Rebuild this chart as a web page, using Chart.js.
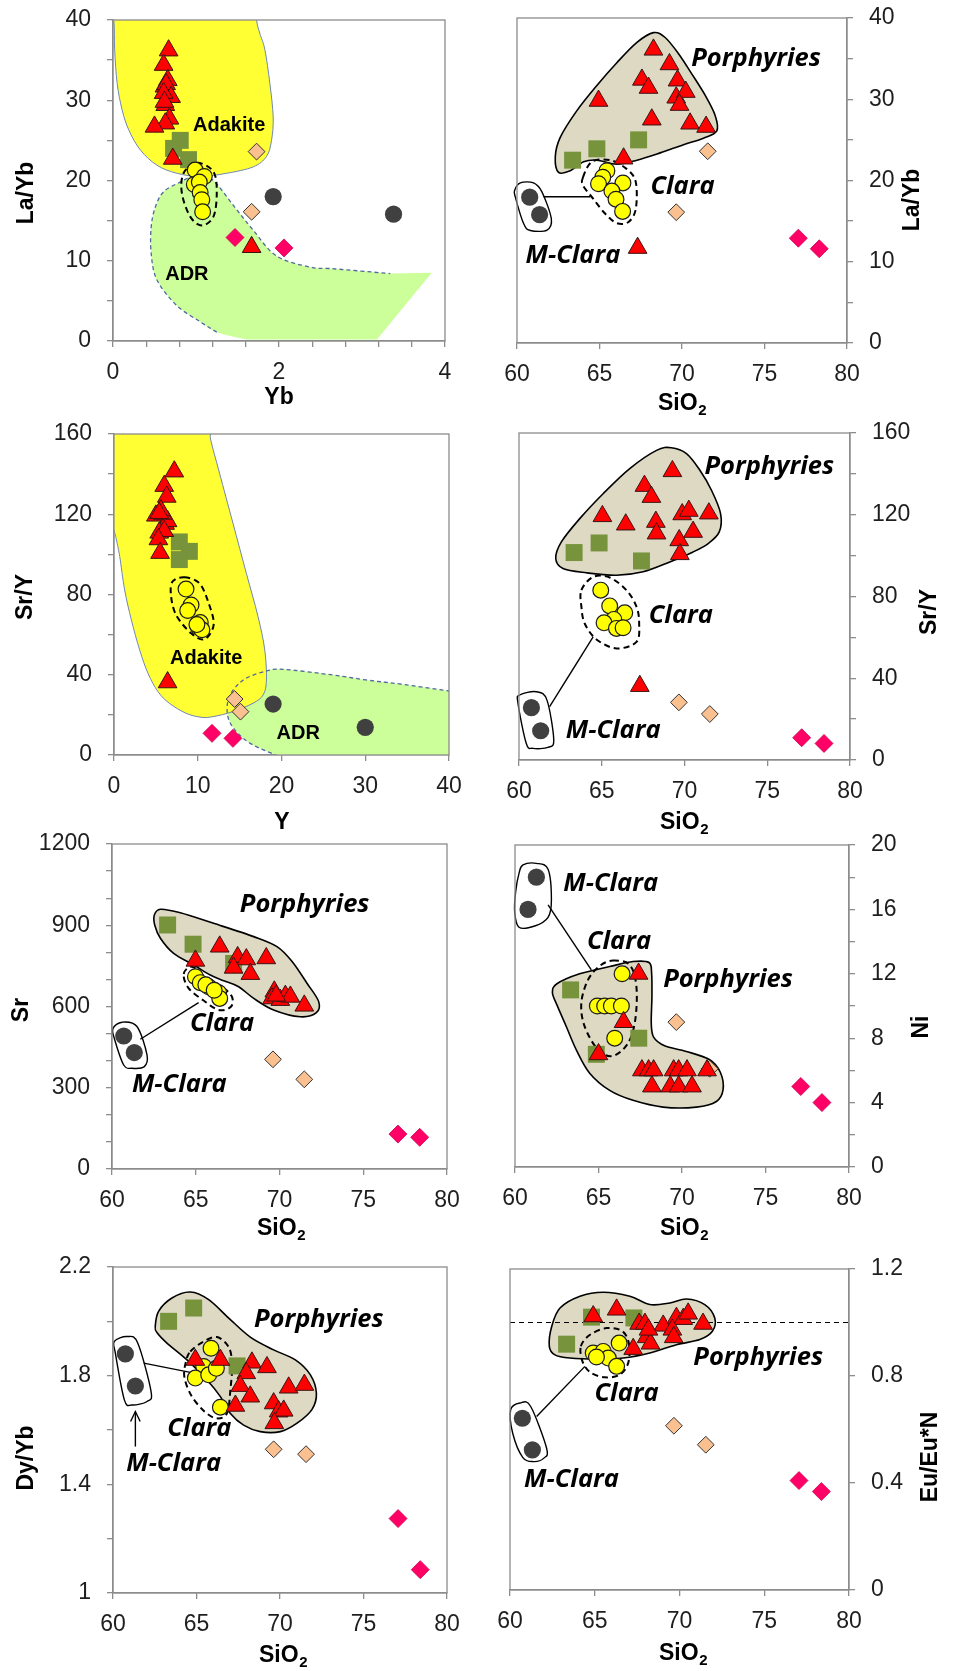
<!DOCTYPE html>
<html>
<head>
<meta charset="utf-8">
<title>Adakite discrimination and SiO2 variation diagrams</title>
<script src="https://cdn.jsdelivr.net/npm/chart.js@4.4.1/dist/chart.umd.min.js"></script>
<style>
  html, body { margin: 0; padding: 0; background: #fff; }
  #sheet { position: relative; width: 957px; height: 1671px; overflow: hidden; background: #fff; }
  #sheet canvas { position: absolute; }
</style>
</head>
<body>
<div id="sheet"></div>
<script>
// ---------- Panel A: La/Yb vs Yb ----------
const A_triangles = [[0.67,36.2],[0.61,34.4],[0.66,32.5],[0.62,31.7],[0.64,32.0],[0.70,30.4],[0.61,30.9],[0.63,29.4],[0.62,29.8],[0.68,27.7],[0.63,27.1],[0.50,26.7],[0.72,22.7],[1.67,11.7]];
const A_squares = [[0.81,25.0],[0.73,24.0],[0.91,22.6]];
const A_clara = [[0.99,21.3],[1.10,20.5],[0.98,19.5],[1.04,19.8],[1.05,18.5],[1.07,17.6],[1.08,16.1]];
const A_mClara = [[1.93,18.0],[3.38,15.8]];
const A_tan = [[1.73,23.6],[1.67,16.1]];
const A_pink = [[1.47,12.9],[2.06,11.6]];
const A_adakiteField = [[-0.05,43],[0.01,40],[0.02,36.3],[0.05,32.1],[0.11,28.8],[0.19,26.3],[0.33,23.8],[0.53,21.9],[0.77,20.9],[1.05,20.5],[1.37,20.9],[1.69,21.7],[1.85,23.0],[1.91,25.0],[1.93,27.9],[1.89,32.1],[1.83,36.3],[1.77,38.3],[1.73,40],[1.72,43]];
const A_adrEdge = [[1.61,0.2],[1.25,1.1],[1.05,2.4],[0.77,4.4],[0.53,7.6],[0.46,10.9],[0.46,14.2],[0.51,16.7],[0.61,18.6],[0.81,19.8],[1.03,20.8],[1.21,20.0],[1.45,16.9],[1.69,13.8],[1.97,10.6],[2.38,9.2],[2.66,9.0],[3.34,8.4]];
const A_adrCorners = [[3.84,8.5],[3.18,0.2]];
const A_claraOutline = [[1.01,22.2],[1.21,21.1],[1.25,18.4],[1.21,15.5],[1.07,14.4],[0.93,15.5],[0.83,18.4],[0.85,20.9]];
const A_xLabels = [0, 2, 4];
const A_yLabels = [0, 10, 20, 30, 40];

// ---------- Panel B: La/Yb vs SiO2 ----------
const B_triangles = [[68.27,36.1],[69.24,34.3],[67.57,32.4],[67.97,31.4],[69.73,32.3],[69.65,30.2],[70.23,30.9],[69.85,29.3],[64.94,29.8],[68.17,27.5],[70.49,27.0],[71.46,26.6],[66.46,22.7],[67.31,11.7]];
const B_squares = [[63.37,22.5],[64.84,23.9],[67.37,25.0]];
const B_clara = [[65.45,21.2],[65.2,20.4],[64.94,19.6],[66.42,19.7],[65.75,18.7],[66.0,17.7],[66.4,16.2]];
const B_mClara = [[60.77,17.95],[61.37,15.8]];
const B_tan = [[71.56,23.6],[69.65,16.1]];
const B_pink = [[77.05,12.9],[78.32,11.6]];
const B_porphField = [[62.52,21.0],[62.32,22.9],[62.62,25.3],[63.63,28.6],[64.84,31.7],[66.05,34.5],[67.27,37.0],[68.27,38.2],[68.98,37.6],[69.79,35.6],[70.6,33.1],[71.4,30.5],[72.01,28.0],[72.11,26.1],[71.3,25.2],[70.09,24.4],[68.68,23.4],[67.27,22.5],[66.05,22.0],[64.84,22.5],[64.04,22.3],[63.23,21.2]];
const B_claraOutline = [[64.0,20.4],[64.54,22.3],[65.65,22.5],[66.66,21.4],[67.2,19.8],[67.2,16.5],[66.76,14.9],[66.05,14.75],[65.35,15.9],[64.64,17.7],[64.0,19.4]];
const B_mClaraOutline = [[59.86,18.8],[60.2,19.7],[61.0,19.7],[61.51,18.6],[62.08,15.3],[61.82,13.9],[60.81,13.85],[60.4,14.7],[59.9,17.95]];
const B_link = [[61.61,18.0],[64.44,18.0]];
const B_yLabels = [0, 10, 20, 30, 40];

// ---------- Panel C: Sr/Y vs Y ----------
const C_triangles = [[7.2,141.3],[6.0,134.1],[6.3,128.7],[5.0,119.3],[6.1,115.2],[6.4,116.5],[5.4,110.8],[5.8,120.2],[5.6,121.9],[5.4,120.6],[6.0,111.6],[5.3,107.5],[5.5,100.7],[6.4,36.2]];
const C_squares = [[7.8,106.2],[9.0,101.5],[7.8,97.4]];
const C_clara = [[8.6,82.7],[9.2,74.8],[8.8,72.0],[10.3,66.0],[10.1,63.7],[10.5,62.4],[9.9,65.0]];
const C_mClara = [[19.0,25.4],[30.0,13.8]];
const C_tan = [[14.4,27.9],[15.1,21.6]];
const C_pink = [[11.7,10.8],[14.2,8.3]];
const C_adakiteField = [[-0.5,166],[11.3,166],[11.5,158],[12.6,140.5],[14.2,115.6],[15.8,90.6],[17.2,69.0],[18.0,52.4],[18.2,37.4],[17.8,29.9],[16.6,25.8],[14.2,21.6],[11.8,19.1],[10.4,18.8],[8.6,20.8],[6.6,25.8],[5.25,31.6],[4.06,40.7],[3.06,52.4],[2.07,67.4],[1.27,82.3],[0.68,99.0],[0.2,108.9],[-0.3,118],[-0.5,140]];
const C_adrEdge = [[19.6,-0.5],[16.6,5.0],[14.8,10.8],[13.8,16.6],[13.5,22.5],[13.7,28.3],[14.4,33.3],[15.8,38.3],[18.2,41.9],[20.2,42.7],[26.1,39.9],[30.1,37.4],[34.1,35.4],[40.5,31.6]];
const C_adrCorners = [[40.5,-1],[19.6,-1]];
const C_claraOutline = [[8.4,88.6],[10.2,85.6],[11.3,75.7],[11.9,64.9],[10.8,57.7],[9.2,60.7],[7.4,69.9],[6.8,79.8],[7.0,86.5]];
const C_xLabels = [0, 10, 20, 30, 40];
const C_yLabels = [0, 40, 80, 120, 160];

// ---------- Panel D: Sr/Y vs SiO2 ----------
const D_triangles = [[69.27,141.3],[67.58,134.1],[68.0,128.7],[65.04,119.3],[66.45,115.2],[68.27,116.5],[68.31,110.8],[69.86,120.2],[70.26,121.9],[71.47,120.6],[70.52,111.6],[69.68,107.5],[69.72,100.7],[67.30,36.2]];
const D_squares = [[63.33,101.5],[64.84,106.2],[67.40,97.4]];
const D_clara = [[64.94,83.1],[65.48,75.4],[66.39,72.0],[65.73,68.8],[65.14,67.1],[65.89,64.4],[66.29,64.7]];
const D_mClara = [[60.75,25.6],[61.31,14.3]];
const D_tan = [[69.66,28.2],[71.53,22.5]];
const D_pink = [[77.08,10.9],[78.43,8.1]];
const D_porphField = [[62.22,98.6],[62.56,106.7],[63.67,118.1],[65.08,130.3],[66.69,142.6],[68.31,151.5],[69.21,152.8],[70.12,149.9],[70.93,141.8],[71.63,132.0],[72.18,120.6],[72.10,111.6],[71.43,105.9],[70.52,101.8],[69.11,96.9],[67.50,92.1],[65.89,90.4],[64.07,91.6],[62.66,93.7]];
const D_claraOutline = [[63.77,83.1],[64.48,89.6],[65.48,89.3],[66.49,83.1],[67.10,75.0],[67.26,66.8],[67.10,57.8],[65.89,54.6],[64.68,59.0],[63.97,66.8],[63.77,75.0]];
const D_mClaraOutline = [[60.04,31.8],[61.05,33.4],[61.69,29.3],[62.10,9.8],[61.75,6.2],[60.85,5.7],[60.44,8.1],[59.94,27.7]];
const D_link = [[61.85,26.1],[64.48,60.3]];

// ---------- Panel E: Sr vs SiO2 ----------
const E_triangles = [[66.43,821],[64.98,769],[67.50,782],[68.02,774],[67.26,743],[68.26,720],[69.21,778],[69.69,655],[69.55,630],[70.05,624],[70.35,639],[70.65,636],[71.48,603],[69.8,640]];
const E_squares = [[63.32,901],[64.84,830],[67.26,759]];
const E_clara = [[64.98,710],[65.27,688],[65.77,673],[66.37,651],[66.43,630],[65.6,680],[66.1,660]];
const E_mClara = [[60.70,491],[61.33,430]];
const E_tan = [[69.61,405],[71.48,331]];
const E_pink = [[77.07,129],[78.37,117]];
const E_porphField = [[62.53,938],[62.89,959],[64.08,946],[66.07,907],[68.46,858],[69.85,821],[70.75,766],[71.64,686],[72.34,618],[72.2,577],[71.24,562],[69.65,587],[68.46,630],[67.56,673],[66.67,695],[65.87,716],[64.88,753],[63.68,796],[62.89,852],[62.55,901]];
const E_claraOutline = [[64.28,720],[64.78,747],[65.57,710],[66.57,673],[67.16,636],[67.1,599],[66.37,587],[65.47,622],[64.58,667]];
const E_mClaraOutline = [[60.06,519],[60.6,542],[61.49,526],[62.09,421],[61.93,378],[61.19,372],[60.7,384],[60.14,482]];
const E_link = [[61.69,479],[65.17,614]];
const E_yLabels = [0, 300, 600, 900, 1200];

// ---------- Panel F: Ni vs SiO2 ----------
const F_triangles = [[67.4,12],[66.5,9],[65.0,7],[67.6,6],[68.0,6],[68.3,6],[69.5,6],[69.8,6],[70.3,6],[71.5,6],[68.2,5],[69.3,5],[69.8,5],[70.6,5]];
const F_squares = [[63.33,11],[67.41,8],[64.87,7]];
const F_clara = [[66.41,12],[64.93,10],[65.37,10],[65.77,10],[66.37,10],[65.97,8]];
const F_mClara = [[61.28,18],[60.78,16]];
const F_tan = [[69.66,9],[71.66,6.1]];
const F_pink = [[77.11,5],[78.38,4]];
const F_porphField = [[62.24,10.84],[62.51,11.38],[63.87,12.0],[65.67,12.45],[67.07,12.76],[68.02,12.7],[68.18,12.04],[68.2,10.59],[68.16,8.93],[68.3,8.07],[68.96,7.53],[70.26,7.18],[71.66,6.66],[72.3,5.87],[72.46,4.8],[72.06,4.07],[70.86,3.72],[68.86,3.72],[67.07,4.14],[65.67,4.76],[64.47,5.83],[63.67,7.28],[63.07,8.73],[62.51,10.07]];
const F_claraOutline = [[65.87,12.82],[66.87,12.55],[67.27,11.2],[67.2,9.14],[66.77,7.69],[65.87,6.9],[64.97,7.28],[64.17,8.73],[63.97,10.18],[64.37,11.62],[65.07,12.49]];
const F_mClaraOutline = [[60.48,18.76],[61.28,18.86],[61.98,18.49],[62.18,16.59],[61.98,15.51],[61.18,14.97],[60.24,14.89],[59.98,15.86],[60.04,17.1],[60.24,18.24]];
const F_link = [[61.98,16.28],[64.57,12.24]];
const F_yLabels = [0, 4, 8, 12, 16, 20];

// ---------- Panel G: Dy/Yb vs SiO2 ----------
const G_triangles = [[64.93,1.858],[66.43,1.858],[68.32,1.848],[69.22,1.831],[67.98,1.809],[67.62,1.762],[68.22,1.723],[67.33,1.689],[69.62,1.698],[70.52,1.756],[71.46,1.766],[69.92,1.668],[70.22,1.671],[69.66,1.625]];
const G_squares = [[63.33,2.0],[64.83,2.049],[67.43,1.836]];
const G_clara = [[65.87,1.901],[65.43,1.834],[64.93,1.791],[65.73,1.803],[66.19,1.827],[66.43,1.684]];
const G_mClara = [[60.74,1.880],[61.34,1.762]];
const G_tan = [[69.62,1.529],[71.56,1.511]];
const G_pink = [[77.07,1.274],[78.40,1.086]];
const G_porphField = [[62.53,1.981],[62.73,2.037],[63.53,2.086],[64.63,2.108],[65.73,2.080],[66.93,2.012],[68.22,1.942],[69.62,1.895],[70.92,1.858],[71.82,1.803],[72.18,1.735],[71.92,1.676],[71.02,1.625],[70.02,1.594],[68.82,1.594],[67.82,1.618],[67.03,1.661],[66.43,1.723],[65.63,1.784],[64.43,1.858],[63.23,1.920],[62.63,1.959]];
const G_claraOutline = [[64.63,1.889],[65.43,1.926],[66.23,1.942],[66.93,1.905],[67.13,1.840],[67.03,1.748],[66.83,1.662],[66.19,1.643],[65.43,1.671],[64.67,1.729],[64.27,1.797],[64.37,1.852]];
const G_mClaraOutline = [[60.08,1.926],[60.84,1.944],[61.48,1.920],[62.28,1.741],[62.04,1.705],[61.14,1.692],[60.68,1.711],[60.14,1.883]];
const G_link = [[61.84,1.846],[64.63,1.812]];
const G_arrow = [[61.34,1.539],[61.34,1.668]];
const G_yLabels = [1, 1.4, 1.8, 2.2];

// ---------- Panel H: Eu/Eu*N vs SiO2 ----------
const H_triangles = [[64.91,1.023],[66.29,1.048],[67.62,0.995],[67.96,0.995],[69.04,0.988],[69.82,1.017],[70.22,1.013],[70.51,1.033],[71.39,0.995],[69.58,0.973],[69.66,0.945],[68.06,0.945],[68.29,0.921],[67.27,0.901],[68.17,0.973]];
const H_squares = [[64.81,1.02],[67.31,1.017],[63.34,0.919]];
const H_clara = [[66.44,0.923],[64.91,0.886],[65.5,0.892],[65.8,0.867],[66.29,0.836],[65.1,0.871]];
const H_mClara = [[60.73,0.642],[61.32,0.524]];
const H_tan = [[69.67,0.614],[71.55,0.543]];
const H_pink = [[77.05,0.409],[78.37,0.368]];
const H_porphField = [[62.32,0.911],[62.46,0.985],[62.95,1.054],[64.13,1.098],[65.50,1.113],[67.07,1.098],[68.25,1.067],[69.43,1.073],[70.41,1.088],[71.49,1.067],[72.08,1.017],[71.94,0.967],[71.20,0.936],[69.82,0.917],[68.25,0.886],[66.68,0.867],[65.11,0.863],[63.54,0.867],[62.65,0.879]];
const H_claraOutline = [[64.18,0.911],[64.72,0.954],[65.70,0.979],[66.64,0.967],[67.03,0.917],[66.97,0.848],[66.48,0.805],[65.60,0.795],[64.75,0.813],[64.28,0.854]];
const H_mClaraOutline = [[60.04,0.674],[60.59,0.699],[61.22,0.686],[62.16,0.530],[62.0,0.493],[61.38,0.480],[60.75,0.496],[60.16,0.586]];
const H_link = [[61.57,0.649],[64.42,0.836]];
const H_euLine = 1;
const H_yLabels = [0, 0.4, 0.8, 1.2];

const SiO2_labels = [60, 65, 70, 75, 80];

// ---------- styles ----------
const TICK_FONT = '"Liberation Sans", Arial, sans-serif';
const FONTS = {
  ann: 'italic bold 25.5px "Open Sans", "Liberation Sans", sans-serif',
  field: 'bold 20px "Liberation Sans", Arial, sans-serif',
  title: 'bold 23px "Liberation Sans", Arial, sans-serif',
  sub: 'bold 15px "Liberation Sans", Arial, sans-serif'
};
const AXIS_GREY = '#8c8c8c';
const PORPH_FILL = '#ddd9c3';
const ADAKITE_FILL = '#ffff33';
const ADR_FILL = '#ccff99';
const FIELD_LINE = '#6f86b6';

// marker styles, listed top-most first (dataset 0 is painted last)
const MARKERS = {
  tri:   { pointStyle: 'triangle', pointRadius: 10.8, pointBackgroundColor: '#ff0000', pointBorderColor: '#3a1414', pointBorderWidth: 1 },
  clara: { pointStyle: 'circle',   pointRadius: 7.9, pointBackgroundColor: '#ffff00', pointBorderColor: '#1a1a1a', pointBorderWidth: 1.2 },
  mcl:   { pointStyle: 'circle',   pointRadius: 8.6, pointBackgroundColor: '#404040', pointBorderColor: '#404040', pointBorderWidth: 0 },
  pink:  { pointStyle: 'rectRot',  pointRadius: 9,   pointBackgroundColor: '#ff0066', pointBorderColor: '#d1004f', pointBorderWidth: 0.8 },
  tan:   { pointStyle: 'rectRot',  pointRadius: 8.4, pointBackgroundColor: '#fac090', pointBorderColor: '#333333', pointBorderWidth: 1 },
  sq:    { pointStyle: 'rect',     pointRadius: 12,  pointBackgroundColor: '#77933c', pointBorderColor: '#77933c', pointBorderWidth: 0 }
};

function porphyries(field) { return { pts: field, fill: PORPH_FILL, stroke: '#000', width: 1.6 }; }
function claraRing(outline) { return { pts: outline, stroke: '#000', width: 2, dash: [6, 4] }; }
function mClaraRing(outline) { return { pts: outline, stroke: '#000', width: 1.4 }; }
function link(seg) { return { pts: seg, smooth: false, closed: false, stroke: '#000', width: 1.4 }; }

const SIO2_AXIS = { min: 60, max: 80, step: 5, labels: SiO2_labels };

const panels = [
  { id: 'A', side: 'left', rect: [113, 20, 445, 341],
    x: { min: 0, max: 4, step: 0.4, labels: A_xLabels }, y: { min: 0, max: 40, step: 5, labels: A_yLabels },
    xTitle: ['Yb'], xTitleAt: [279, 398], yTitle: 'La/Yb', yTitleAt: [27, 193],
    series: { tri: A_triangles, clara: A_clara, mcl: A_mClara, pink: A_pink, tan: A_tan, sq: A_squares },
    shapes: [
      { pts: A_adrEdge, tail: A_adrCorners, fill: ADR_FILL, clip: true },
      { pts: A_adakiteField, fill: ADAKITE_FILL, stroke: FIELD_LINE, width: 1, clip: true },
      { pts: A_adrEdge.slice(1), closed: false, stroke: '#4f68a0', width: 1.3, dash: [4, 3], clip: true },
      claraRing(A_claraOutline)
    ],
    texts: [ { t: 'Adakite', at: [1.40, 26.9], f: 'field' }, { t: 'ADR', at: [0.89, 8.3], f: 'field' } ] },

  { id: 'B', side: 'right', rect: [517, 18, 847, 343],
    x: SIO2_AXIS, y: { min: 0, max: 40, step: 5, labels: B_yLabels },
    xTitle: ['SiO', '2'], xTitleAt: [682, 404], yTitle: 'La/Yb', yTitleAt: [913, 200],
    series: { tri: B_triangles, clara: B_clara, mcl: B_mClara, pink: B_pink, tan: B_tan, sq: B_squares },
    shapes: [ porphyries(B_porphField), claraRing(B_claraOutline), mClaraRing(B_mClaraOutline), link(B_link) ],
    texts: [ { t: 'Porphyries', at: [74.49, 35.0], f: 'ann' }, { t: 'Clara', at: [70.03, 19.2], f: 'ann' }, { t: 'M-Clara', at: [63.39, 10.8], f: 'ann' } ] },

  { id: 'C', side: 'left', rect: [114, 434, 449, 755],
    x: { min: 0, max: 40, step: 10, labels: C_xLabels }, y: { min: 0, max: 160, step: 20, labels: C_yLabels },
    xTitle: ['Y'], xTitleAt: [282, 823], yTitle: 'Sr/Y', yTitleAt: [26, 597],
    series: { tri: C_triangles, clara: C_clara, mcl: C_mClara, pink: C_pink, tan: C_tan, sq: C_squares },
    shapes: [
      { pts: C_adrEdge, tail: C_adrCorners, fill: ADR_FILL, clip: true },
      { pts: C_adakiteField, fill: ADAKITE_FILL, stroke: FIELD_LINE, width: 1, clip: true },
      { pts: C_adrEdge, closed: false, stroke: '#4f68a0', width: 1.3, dash: [4, 3], clip: true },
      claraRing(C_claraOutline)
    ],
    texts: [ { t: 'Adakite', at: [11.0, 48.2], f: 'field' }, { t: 'ADR', at: [22.0, 10.5], f: 'field' } ] },

  { id: 'D', side: 'right', rect: [519, 433, 850, 760],
    x: SIO2_AXIS, y: { min: 0, max: 160, step: 20, labels: C_yLabels },
    xTitle: ['SiO', '2'], xTitleAt: [684, 823], yTitle: 'Sr/Y', yTitleAt: [930, 612],
    series: { tri: D_triangles, clara: D_clara, mcl: D_mClara, pink: D_pink, tan: D_tan, sq: D_squares },
    shapes: [ porphyries(D_porphField), claraRing(D_claraOutline), mClaraRing(D_mClaraOutline), link(D_link) ],
    texts: [ { t: 'Porphyries', at: [75.12, 143.7], f: 'ann' }, { t: 'Clara', at: [69.78, 70.4], f: 'ann' }, { t: 'M-Clara', at: [65.69, 14.3], f: 'ann' } ] },

  { id: 'E', side: 'left', rect: [112, 844, 447, 1169],
    x: SIO2_AXIS, y: { min: 0, max: 1200, step: 100, labels: E_yLabels },
    xTitle: ['SiO', '2'], xTitleAt: [281, 1229], yTitle: 'Sr', yTitleAt: [22, 1010],
    series: { tri: E_triangles, clara: E_clara, mcl: E_mClara, pink: E_pink, tan: E_tan, sq: E_squares },
    shapes: [ porphyries(E_porphField), claraRing(E_claraOutline), mClaraRing(E_mClaraOutline), link(E_link) ],
    texts: [ { t: 'Porphyries', at: [71.5, 975], f: 'ann' }, { t: 'Clara', at: [66.57, 538], f: 'ann' }, { t: 'M-Clara', at: [64.02, 310], f: 'ann' } ] },

  { id: 'F', side: 'right', rect: [515, 845, 849, 1167],
    x: SIO2_AXIS, y: { min: 0, max: 20, step: 2, labels: F_yLabels },
    xTitle: ['SiO', '2'], xTitleAt: [684, 1229], yTitle: 'Ni', yTitleAt: [922, 1027],
    series: { tri: F_triangles, clara: F_clara, mcl: F_mClara, pink: F_pink, tan: F_tan, sq: F_squares },
    shapes: [ porphyries(F_porphField), claraRing(F_claraOutline), mClaraRing(F_mClaraOutline), link(F_link) ],
    texts: [ { t: 'M-Clara', at: [65.73, 17.62], f: 'ann' }, { t: 'Clara', at: [66.23, 14.0], f: 'ann' }, { t: 'Porphyries', at: [72.75, 11.62], f: 'ann' } ] },

  { id: 'G', side: 'left', rect: [113, 1267, 447, 1593],
    x: SIO2_AXIS, y: { min: 1, max: 2.2, step: 0.2, labels: G_yLabels },
    xTitle: ['SiO', '2'], xTitleAt: [283, 1656], yTitle: 'Dy/Yb', yTitleAt: [27, 1458],
    series: { tri: G_triangles, clara: G_clara, mcl: G_mClara, pink: G_pink, tan: G_tan, sq: G_squares },
    shapes: [ porphyries(G_porphField), claraRing(G_claraOutline), mClaraRing(G_mClaraOutline), link(G_link),
              { pts: G_arrow, smooth: false, closed: false, stroke: '#000', width: 1.4, arrow: true } ],
    texts: [ { t: 'Porphyries', at: [72.32, 2.006], f: 'ann' }, { t: 'Clara', at: [65.17, 1.606], f: 'ann' }, { t: 'M-Clara', at: [63.63, 1.477], f: 'ann' } ] },

  { id: 'H', side: 'right', rect: [510, 1269, 849, 1590],
    x: SIO2_AXIS, y: { min: 0, max: 1.2, step: 0.4, labels: H_yLabels },
    xTitle: ['SiO', '2'], xTitleAt: [683, 1654], yTitle: 'Eu/Eu*N', yTitleAt: [931, 1457],
    series: { tri: H_triangles, clara: H_clara, mcl: H_mClara, pink: H_pink, tan: H_tan, sq: H_squares },
    shapes: [ porphyries(H_porphField), { hline: H_euLine, stroke: '#000', width: 1.2, dash: [5, 4] },
              claraRing(H_claraOutline), mClaraRing(H_mClaraOutline), link(H_link) ],
    texts: [ { t: 'Porphyries', at: [74.64, 0.867], f: 'ann' }, { t: 'Clara', at: [66.88, 0.733], f: 'ann' }, { t: 'M-Clara', at: [63.63, 0.412], f: 'ann' } ] }
];

// ---------- drawing helpers ----------
function tracePath(ctx, pts, closed, smooth) {
  const n = pts.length;
  ctx.moveTo(pts[0][0], pts[0][1]);
  if (!smooth || n < 3) {
    for (let i = 1; i < n; i++) ctx.lineTo(pts[i][0], pts[i][1]);
    return;
  }
  const at = i => closed ? pts[(i + n) % n] : pts[Math.max(0, Math.min(n - 1, i))];
  const segs = closed ? n : n - 1;
  const k = 1 / 6;
  for (let i = 0; i < segs; i++) {
    const p0 = at(i - 1), p1 = at(i), p2 = at(i + 1), p3 = at(i + 2);
    ctx.bezierCurveTo(
      p1[0] + (p2[0] - p0[0]) * k, p1[1] + (p2[1] - p0[1]) * k,
      p2[0] - (p3[0] - p1[0]) * k, p2[1] - (p3[1] - p1[1]) * k,
      p2[0], p2[1]);
  }
}

function makeOverlay(p) {
  const px = (chart, q) => [chart.scales.x.getPixelForValue(q[0]), chart.scales.y.getPixelForValue(q[1])];
  return {
    id: 'overlay' + p.id,
    beforeDatasetsDraw(chart) {
      const ctx = chart.ctx, a = chart.chartArea;
      for (const s of p.shapes) {
        ctx.save();
        if (s.clip) { ctx.beginPath(); ctx.rect(a.left, a.top, a.right - a.left, a.bottom - a.top); ctx.clip(); }
        ctx.beginPath();
        if (s.hline !== undefined) {
          const yy = chart.scales.y.getPixelForValue(s.hline);
          ctx.moveTo(a.left, yy); ctx.lineTo(a.right, yy);
        } else {
          const pts = s.pts.map(q => px(chart, q));
          const closed = s.closed !== false;
          tracePath(ctx, pts, closed && !s.tail, s.smooth !== false);
          if (s.tail) s.tail.forEach(q => { const t = px(chart, q); ctx.lineTo(t[0], t[1]); });
          if (closed) ctx.closePath();
          if (s.fill) { ctx.fillStyle = s.fill; ctx.fill(); }
        }
        if (s.stroke) {
          ctx.strokeStyle = s.stroke; ctx.lineWidth = s.width || 1;
          ctx.setLineDash(s.dash || []); ctx.stroke();
        }
        if (s.arrow) {
          const e = px(chart, s.pts[s.pts.length - 1]), b = px(chart, s.pts[s.pts.length - 2]);
          const ang = Math.atan2(e[1] - b[1], e[0] - b[0]), L = 11;
          ctx.setLineDash([]);
          ctx.beginPath();
          ctx.moveTo(e[0] - L * Math.cos(ang - 0.45), e[1] - L * Math.sin(ang - 0.45));
          ctx.lineTo(e[0], e[1]);
          ctx.lineTo(e[0] - L * Math.cos(ang + 0.45), e[1] - L * Math.sin(ang + 0.45));
          ctx.stroke();
        }
        ctx.restore();
      }
    },
    afterDatasetsDraw(chart) {
      const ctx = chart.ctx;
      ctx.save();
      ctx.fillStyle = '#000';
      ctx.textAlign = 'center';
      ctx.textBaseline = 'middle';
      for (const t of p.texts) {
        const q = px(chart, t.at);
        ctx.font = FONTS[t.f];
        ctx.fillText(t.t, q[0], q[1]);
      }
      ctx.restore();
    },
    afterDraw(chart) {
      const ctx = chart.ctx, a = chart.chartArea;
      ctx.save();
      ctx.strokeStyle = AXIS_GREY; ctx.lineWidth = 1.3;
      ctx.strokeRect(a.left, a.top, a.right - a.left, a.bottom - a.top);
      ctx.fillStyle = '#000';
      ctx.textBaseline = 'middle';
      // x-axis title (with optional subscript)
      const [tx, ty] = [p.xTitleAt[0] - p.cx, p.xTitleAt[1] - p.cy];
      ctx.font = FONTS.title;
      const w1 = ctx.measureText(p.xTitle[0]).width;
      let w2 = 0;
      if (p.xTitle[1]) { ctx.font = FONTS.sub; w2 = ctx.measureText(p.xTitle[1]).width; }
      const x0 = tx - (w1 + w2) / 2;
      ctx.textAlign = 'left';
      ctx.font = FONTS.title; ctx.fillText(p.xTitle[0], x0, ty);
      if (p.xTitle[1]) { ctx.font = FONTS.sub; ctx.fillText(p.xTitle[1], x0 + w1 + 0.5, ty + 7); }
      // y-axis title, rotated
      ctx.translate(p.yTitleAt[0] - p.cx, p.yTitleAt[1] - p.cy);
      ctx.rotate(-Math.PI / 2);
      ctx.textAlign = 'center';
      ctx.font = FONTS.title;
      ctx.fillText(p.yTitle, 0, 0);
      ctx.restore();
    }
  };
}

function axisOptions(spec, isX, position, fitSize) {
  return {
    type: 'linear', position, min: spec.min, max: spec.max,
    afterBuildTicks: s => {
      const n = Math.round((spec.max - spec.min) / spec.step);
      const ticks = [];
      for (let i = 0; i <= n; i++) ticks.push({ value: +(spec.min + i * spec.step).toFixed(6) });
      s.ticks = ticks;
    },
    afterFit: s => { if (isX) s.height = fitSize; else s.width = fitSize; },
    ticks: {
      autoSkip: false, maxRotation: 0, minRotation: 0,
      padding: isX ? 12 : 16, color: '#1e1e1e',
      font: { family: TICK_FONT, size: 23 },
      callback: v => {
        const m = spec.labels.find(l => Math.abs(l - v) < 1e-6);
        return m === undefined ? '' : String(m);
      }
    },
    grid: { drawOnChartArea: false, drawTicks: true, tickLength: 6, color: AXIS_GREY, lineWidth: 1.3 },
    border: { display: true, color: AXIS_GREY, width: 1.3 },
    title: { display: false }
  };
}

const sheet = document.getElementById('sheet');
const ORDER = ['tri', 'clara', 'mcl', 'pink', 'tan', 'sq'];

for (const p of panels) {
  const [L, T, R, B] = p.rect;
  p.cx = p.side === 'left' ? 0 : 470;
  const cw = p.side === 'left' ? 480 : 487;
  p.cy = T - 30;
  const ch = (B + 92) - p.cy;
  const canvas = document.createElement('canvas');
  canvas.width = cw; canvas.height = ch;
  canvas.style.left = p.cx + 'px'; canvas.style.top = p.cy + 'px';
  canvas.style.width = cw + 'px'; canvas.style.height = ch + 'px';
  sheet.appendChild(canvas);

  const xFit = ch - (B - p.cy);
  const padding = { top: T - p.cy, bottom: 0, left: 0, right: 0 };
  let yFit;
  if (p.side === 'left') { yFit = L - p.cx; padding.right = cw - (R - p.cx); }
  else { yFit = cw - (R - p.cx); padding.left = L - p.cx; }

  new Chart(canvas, {
    type: 'scatter',
    data: {
      datasets: ORDER.map(key => Object.assign({
        label: key,
        data: p.series[key].map(([x, y]) => ({ x, y })),
        clip: false
      }, MARKERS[key]))
    },
    options: {
      responsive: false, animation: false, events: [],
      layout: { padding },
      plugins: { legend: { display: false }, tooltip: { enabled: false } },
      scales: {
        x: axisOptions(p.x, true, 'bottom', xFit),
        y: axisOptions(p.y, false, p.side, yFit)
      }
    },
    plugins: [makeOverlay(p)]
  });
}
</script>
</body>
</html>
